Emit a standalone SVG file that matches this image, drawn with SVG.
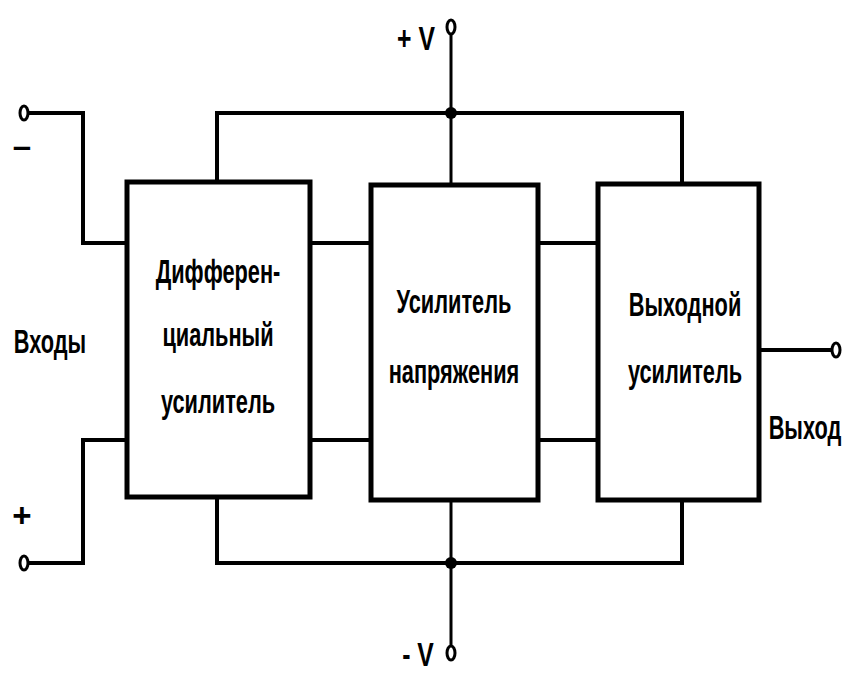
<svg xmlns="http://www.w3.org/2000/svg" width="842" height="677" viewBox="0 0 842 677">
<style>
.box{fill:#fff;stroke:#000;stroke-width:5}
.w{fill:none;stroke:#000;stroke-width:4;stroke-linecap:square}
.t{fill:none;stroke:#000;stroke-width:3}
.term{fill:#fff;stroke:#000;stroke-width:3}
.dot{fill:#000}
.lbl{font-family:"Liberation Sans",Arial,sans-serif;font-weight:bold;font-size:33px;fill:#000;text-anchor:middle}
</style>
<rect width="842" height="677" fill="#fff"/>
<g id="connectors">
<polyline class="w" points="217,180 217,113 682,113 682,183"/>
<line class="t" x1="451" y1="35" x2="451" y2="185"/>
<polyline class="w" points="217,497 217,563 682,563 682,500"/>
<line class="t" x1="451" y1="500" x2="451" y2="645"/>
<circle class="dot" cx="451" cy="113" r="6"/>
<circle class="dot" cx="451" cy="563" r="6"/>
<polyline class="w" points="30,113 83,113 83,243 127,243"/>
<polyline class="w" points="30,563 83,563 83,440 127,440"/>
<line class="w" x1="310" y1="243" x2="371" y2="243"/>
<line class="w" x1="310" y1="440" x2="371" y2="440"/>
<line class="w" x1="538" y1="243" x2="598" y2="243"/>
<line class="w" x1="538" y1="440" x2="598" y2="440"/>
<line class="w" x1="759" y1="350" x2="830" y2="350"/>
<ellipse class="term" cx="24" cy="113" rx="4" ry="7"/>
<ellipse class="term" cx="24" cy="563" rx="4" ry="7"/>
<ellipse class="term" cx="451" cy="27" rx="4" ry="7"/>
<ellipse class="term" cx="451" cy="653" rx="4" ry="7"/>
<ellipse class="term" cx="836" cy="350" rx="4" ry="7"/>
</g>
<g id="diff">
<rect class="box" x="127" y="182" width="183" height="315"/>
<g transform="translate(218,0) scale(0.66,1)">
<text class="lbl" x="0" y="283">Дифферен-</text>
<text class="lbl" x="0" y="346">циальный</text>
<text class="lbl" x="0" y="413">усилитель</text>
</g>
</g>
<g id="volt">
<rect class="box" x="371" y="185" width="167" height="315"/>
<g transform="translate(454,0) scale(0.66,1)">
<text class="lbl" x="0" y="313">Усилитель</text>
<text class="lbl" x="0" y="383">напряжения</text>
</g>
</g>
<g id="out">
<rect class="box" x="598" y="184" width="161" height="316"/>
<g transform="translate(685,0) scale(0.66,1)">
<text class="lbl" x="0" y="316">Выходной</text>
<text class="lbl" x="0" y="383">усилитель</text>
</g>
</g>
<g id="labels">
<g transform="translate(50,0) scale(0.66,1)"><text class="lbl" x="0" y="353">Входы</text></g>
<g transform="translate(805,0) scale(0.66,1)"><text class="lbl" x="0" y="439">Выход</text></g>
<g transform="translate(416,0) scale(0.75,1)"><text class="lbl" x="0" y="50">+ V</text></g>
<g transform="translate(418,0) scale(0.75,1)"><text class="lbl" x="0" y="666">- V</text></g>
<text class="lbl" x="22" y="157">–</text>
<text class="lbl" x="22" y="527">+</text>
</g>
</svg>
